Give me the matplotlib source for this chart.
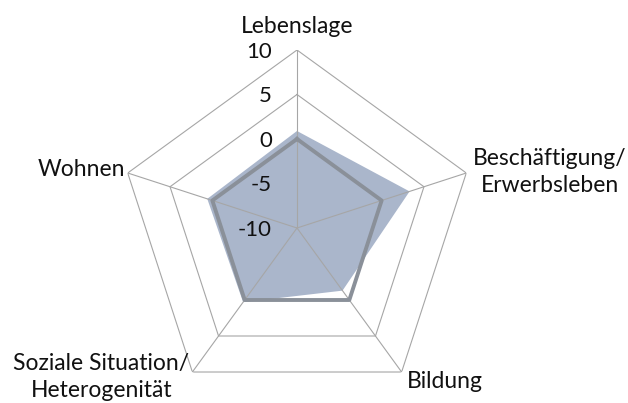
import numpy as np
import matplotlib
matplotlib.use('Agg')
import matplotlib.pyplot as plt

categories = ['Lebenslage', 'Beschäftigung/\nErwerbsleben', 'Bildung',
              'Soziale Situation/\nHeterogenität', 'Wohnen']
area_values = [0.9, 3.3, -1.3, 0.3, 0.6]   # filled series
line_values = [0, 0, 0, 0, 0]               # grey reference line
r_ticks = [-10, -5, 0, 5, 10]
r_min, r_max = -10, 10

plt.rcParams['font.family'] = ['Lato', 'DejaVu Sans']

fig = plt.figure(figsize=(6.28, 4.03), dpi=100)
ax = fig.add_axes([119 / 628, -3 / 403, 356 / 628, 356 / 403], projection='polar')
ax.set_theta_zero_location('N')
ax.set_theta_direction(-1)
ax.set_ylim(r_min, r_max)
ax.axis('off')

n = len(categories)
theta = np.arange(n) * 2 * np.pi / n
theta_c = np.append(theta, theta[0])

grid_col = '#a6a6a6'
# pentagon rings sit under the fill, spokes on top of it
for v in r_ticks[1:]:
    ax.plot(theta_c, [v] * (n + 1), color=grid_col, lw=0.8, zorder=0.5)
for t in theta:
    ax.plot([t, t], [r_min, r_max], color=grid_col, lw=0.8, zorder=2)

ax.fill(theta_c, area_values + area_values[:1], color='#aab6cb', lw=0, zorder=1)
ax.plot(theta_c, line_values + line_values[:1], color='#8a9099', lw=2.8, zorder=3)

# radial labels
for v in r_ticks:
    ax.annotate(str(v), xy=(0, v), xytext=(-25, -2), textcoords='offset pixels',
                ha='right', va='center', fontsize=16, color='#111111')

# category labels
offsets = [(0, 13, 'center', 'bottom'),
           (7, 1, 'left', 'center'),
           (5, -9, 'left', 'center'),
           (-3, -5, 'right', 'center'),
           (-3, 3, 'right', 'center')]
for t, lab, (dx, dy, ha, va) in zip(theta, categories, offsets):
    ax.annotate(lab, xy=(t, r_max), xytext=(dx, dy), textcoords='offset pixels',
                ha=ha, va=va, multialignment='center', fontsize=16.5,
                color='#111111', linespacing=1.3, annotation_clip=False)

fig.savefig('out.png', dpi=100)
